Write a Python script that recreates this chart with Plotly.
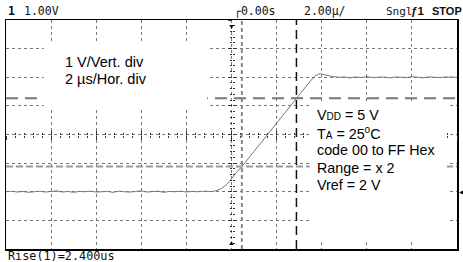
import plotly.graph_objects as go

# ---------------- data ----------------
time_us = [-10.0, -9.75, -9.5, -9.25, -9.0, -8.75, -8.5, -8.25, -8.0, -7.75,
           -7.5, -7.25, -7.0, -6.75, -6.5, -6.25, -6.0, -5.75, -5.5, -5.25,
           -5.0, -4.75, -4.5, -4.25, -4.0, -3.75, -3.5, -3.25, -3.0, -2.75,
           -2.5, -2.25, -2.0, -1.75, -1.5, -1.25, -1.0,
           -0.85, -0.65, -0.45, -0.25, -0.05, 0.15, 0.46, 1.0, 1.5, 2.0,
           2.5, 2.88, 3.2, 3.5, 3.7, 3.85, 3.95, 4.1, 4.3,
           4.5, 4.75, 5.0, 5.25, 5.5, 5.75, 6.0, 6.25, 6.5, 6.75, 7.0, 7.25,
           7.5, 7.75, 8.0, 8.25, 8.5, 8.75, 9.0, 9.25, 9.5, 9.75, 10.0]
volts = [-2.00, -1.98, -2.01, -1.99, -2.02, -2.00, -1.98, -2.01, -2.00, -1.97,
         -2.01, -1.99, -2.02, -1.99, -2.00, -1.98, -2.01, -2.00, -1.99, -2.02,
         -1.98, -2.00, -2.01, -1.99, -1.97, -2.01, -2.00, -1.98, -2.02, -1.99,
         -2.00, -1.98, -2.01, -1.99, -2.00, -1.98, -1.99,
         -1.99, -1.96, -1.89, -1.77, -1.60, -1.39, -1.12, -0.59, -0.09, 0.40,
         0.90, 1.27, 1.59, 1.87, 2.04, 2.11, 2.12, 2.09, 2.04,
         2.02, 2.00, 2.01, 1.98, 2.01, 1.99, 2.02, 1.99, 2.00, 2.01, 1.98, 2.01,
         2.00, 1.99, 2.02, 2.00, 1.98, 2.01, 2.00, 1.99, 2.01, 2.00, 2.00]

cursor_times = [0.46, 2.88]       # us, vertical cursors
cursor_levels = [1.27, -1.12]     # V, horizontal cursors
x_range = [-10, 10]               # 2 us/div, 10 div
y_range = [-4, 4]                 # 1 V/div, 8 div
channel_level = [-2.0]            # ground marker at right edge

left_lines = ["1 V/Vert. div", "2 µs/Hor. div"]
right_lines = ["V<span style='font-size:10px'>DD</span> = 5 V",
               "T<span style='font-size:10px'>A</span> = 25<sup>o</sup>C",
               "code 00 to FF Hex",
               "Range = x 2",
               "Vref = 2 V"]

W, H = 463, 262
L, R, T, B = 6, 4, 20, 13
PW, PH = W - L - R, H - T - B


def px(xp):
    return (xp - L) / PW


def py(yp):
    return (H - B - yp) / PH


fig = go.Figure()
fig.add_trace(go.Scatter(x=time_us, y=volts, mode="lines",
                         line=dict(color="#777", width=1),
                         hoverinfo="skip", showlegend=False))
# dummy traces to create center-line tick axes
fig.add_trace(go.Scatter(x=[None], y=[None], xaxis="x2", yaxis="y2",
                         showlegend=False, hoverinfo="skip"))
fig.add_trace(go.Scatter(x=[None], y=[None], xaxis="x3", yaxis="y3",
                         showlegend=False, hoverinfo="skip"))

grid = dict(showgrid=True, gridcolor="#777", griddash="dot", gridwidth=1,
            zeroline=False, showticklabels=False, ticks="",
            showline=True, mirror=True, linecolor="black", linewidth=1.5)

fig.update_layout(
    width=W, height=H,
    margin=dict(l=L, r=R, t=T, b=B, pad=0),
    paper_bgcolor="white", plot_bgcolor="white",
    hovermode=False,
    xaxis=dict(range=x_range, dtick=2, tick0=0, **grid),
    yaxis=dict(range=y_range, dtick=1, tick0=0, **grid),
)

center_common = dict(showgrid=False, zeroline=False, showticklabels=False,
                     showline=False, anchor="free", position=0.5,
                     tickcolor="#333", tickwidth=1, ticklen=4, tick0=0)
fig.update_layout(
    xaxis2=dict(range=x_range, overlaying="x", dtick=2, ticks="outside",
                minor=dict(dtick=0.4, ticks="outside", ticklen=2, tickcolor="#333"),
                **center_common),
    xaxis3=dict(range=x_range, overlaying="x", dtick=2, ticks="inside",
                minor=dict(dtick=0.4, ticks="inside", ticklen=2, tickcolor="#333"),
                **center_common),
    yaxis2=dict(range=y_range, overlaying="y", dtick=1, ticks="outside",
                minor=dict(dtick=0.2, ticks="outside", ticklen=2, tickcolor="#333"),
                **center_common),
    yaxis3=dict(range=y_range, overlaying="y", dtick=1, ticks="inside",
                minor=dict(dtick=0.2, ticks="inside", ticklen=2, tickcolor="#333"),
                **center_common),
)

# cursors
fig.add_shape(type="line", xref="x", yref="y", x0=cursor_times[0], x1=cursor_times[0],
              y0=y_range[0], y1=y_range[1],
              line=dict(color="#888", width=2, dash="4px,3px"), layer="above")
fig.add_shape(type="line", xref="x", yref="y", x0=cursor_times[1], x1=cursor_times[1],
              y0=y_range[0], y1=y_range[1],
              line=dict(color="#111", width=1.5, dash="9px,5px"), layer="above")
fig.add_shape(type="line", xref="x", yref="y", x0=x_range[0], x1=x_range[1],
              y0=cursor_levels[0], y1=cursor_levels[0],
              line=dict(color="#777", width=2, dash="12px,7px"), layer="above")
fig.add_shape(type="line", xref="x", yref="y", x0=x_range[0], x1=x_range[1],
              y0=cursor_levels[1], y1=cursor_levels[1],
              line=dict(color="#999", width=2, dash="7px,3px"), layer="above")

# white label boxes
fig.add_shape(type="rect", xref="paper", yref="paper",
              x0=px(44), x1=px(208), y0=py(108), y1=py(44),
              fillcolor="white", line=dict(width=0), layer="above")
fig.add_shape(type="rect", xref="paper", yref="paper",
              x0=px(311), x1=px(449), y0=py(240), y1=py(102),
              fillcolor="white", line=dict(width=0), layer="above")

sans = "Liberation Sans, Arial, sans-serif"
mono = "DejaVu Sans Mono, monospace"

for text, yp in zip(left_lines, [62, 79]):
    fig.add_annotation(text=text, xref="paper", yref="paper", x=px(63), y=py(yp),
                       xanchor="left", yanchor="middle", showarrow=False,
                       font=dict(family=sans, size=14.5, color="black"))
for text, yp in zip(right_lines, [115, 132.5, 150, 167.5, 185]):
    fig.add_annotation(text=text, xref="paper", yref="paper", x=px(316), y=py(yp),
                       xanchor="left", yanchor="middle", showarrow=False,
                       font=dict(family=sans, size=14.3, color="black"))

# header / footer text
hy = py(11)
header = [("<b>1</b>", 6, mono, 11.5),
          ("1.00V", 22, mono, 11.5),
          ("┌0.00s", 233, mono, 11.5),
          ("2.00µ/", 303, mono, 11.5),
          ("Sngl", 386, mono, 11),
          ("<b>ƒ1</b>", 411, sans, 11.5),
          ("<b>STOP</b>", 432, sans, 11)]
for text, xp, fam, sz in header:
    fig.add_annotation(text=text, xref="paper", yref="paper", x=px(xp), y=hy,
                       xanchor="left", yanchor="middle", showarrow=False,
                       font=dict(family=fam, size=sz, color="#111"))
fig.add_annotation(text="Rise(1)=2.400us", xref="paper", yref="paper",
                   x=px(6), y=py(256), xanchor="left", yanchor="middle",
                   showarrow=False, font=dict(family=mono, size=11.8, color="#111"))

# markers: trigger (top/bottom) and channel level (right)
fig.add_annotation(text="▼", xref="x", yref="y", x=0, y=y_range[1],
                   xanchor="center", yanchor="top", showarrow=False,
                   font=dict(size=7, color="black"))
fig.add_annotation(text="▲", xref="x", yref="y", x=0, y=y_range[0],
                   xanchor="center", yanchor="bottom", showarrow=False,
                   font=dict(size=7, color="black"))
fig.add_annotation(text="◀", xref="x", yref="y", x=x_range[1], y=channel_level[0],
                   xanchor="left", yanchor="middle", showarrow=False,
                   font=dict(size=6, color="black"))

fig.write_html("out.html",
               config={"displayModeBar": False, "staticPlot": True},
               post_script="document.body.style.margin='0';document.body.style.padding='0';")
